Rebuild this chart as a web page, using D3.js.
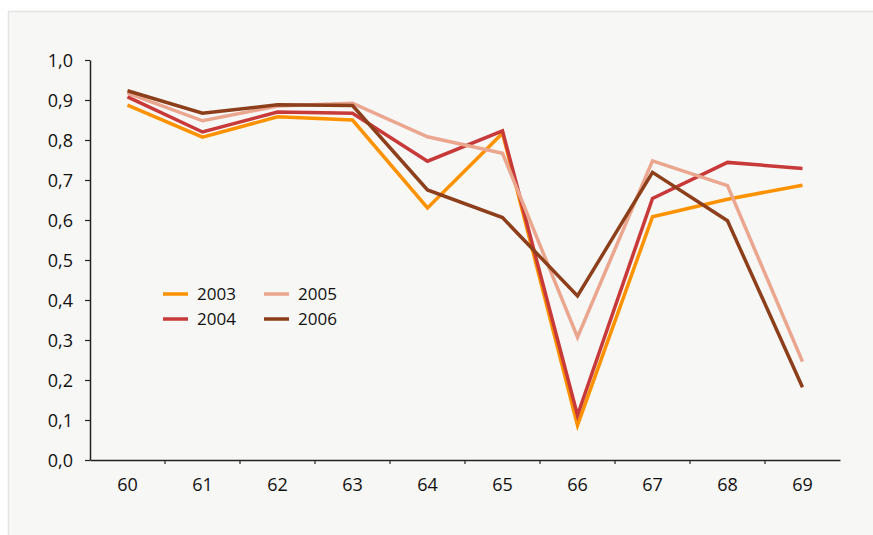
<!DOCTYPE html>
<html><head><meta charset="utf-8">
<script src="https://cdn.jsdelivr.net/npm/d3@7"></script>
<style>
body{margin:0;background:#fff;}
svg{display:block;}
text{font-family:"Open Sans","Noto Sans",sans-serif;fill:#111;}
</style></head><body>
<script>
const categories = ["60","61","62","63","64","65","66","67","68","69"];
const seriesNames = ["2003","2004","2005","2006"];
const v2003 = [0.887,0.807,0.858,0.850,0.630,0.817,0.087,0.608,0.652,0.687];
const v2004 = [0.908,0.820,0.870,0.867,0.747,0.823,0.112,0.654,0.744,0.729];
const v2005 = [0.917,0.848,0.885,0.892,0.808,0.767,0.307,0.748,0.686,0.246];
const v2006 = [0.923,0.867,0.888,0.886,0.675,0.606,0.410,0.719,0.598,0.182];
const yTicks = [0,0.1,0.2,0.3,0.4,0.5,0.6,0.7,0.8,0.9,1.0];
const colors = ["#fd9200","#c8393a","#eaa68e","#8c3f1a"];
const values = [v2003,v2004,v2005,v2006];

const W=873,H=535;
const svg=d3.select("body").append("svg").attr("width",W).attr("height",H);
svg.append("rect").attr("x",8.5).attr("y",11.5).attr("width",W).attr("height",H)
  .attr("fill","#f7f7f5").attr("stroke","#e4e4e4").attr("stroke-width",1.5);

const x=d3.scaleBand().domain(categories).range([90,840]).paddingInner(0).paddingOuter(0);
const y=d3.scaleLinear().domain([0,1]).range([460,60]);
const fmt=d=>d3.format(".1f")(d).replace(".",",");

// y axis
const ya=svg.append("g").attr("transform","translate(90,0)")
  .call(d3.axisLeft(y).tickValues(yTicks).tickFormat(fmt).tickSize(5).tickSizeOuter(0));
ya.select(".domain").attr("stroke","#222").attr("stroke-width",1.5);
ya.selectAll(".tick line").attr("stroke","#222").attr("stroke-width",1.2);
ya.selectAll(".tick text").attr("x",-17).attr("font-size",18).attr("dy","0.35em");

// x axis
const xa=svg.append("g").attr("transform","translate(0,460)")
  .call(d3.axisBottom(x).tickSize(0).tickSizeOuter(0));
xa.select(".domain").attr("stroke","#222").attr("stroke-width",1.5);
xa.selectAll(".tick text").attr("y",25).attr("font-size",18).attr("dy","0.35em");
// boundary ticks
const bounds=categories.map(c=>x(c)).slice(1);
xa.selectAll(".btick").data(bounds).enter().append("line")
  .attr("x1",d=>d).attr("x2",d=>d).attr("y1",0).attr("y2",4)
  .attr("stroke","#222").attr("stroke-width",1.2);
xa.selectAll("text").attr("font-family",null).attr("fill","#111");
ya.selectAll("text").attr("font-family",null).attr("fill","#111");

const line=d3.line().x((d,i)=>x(categories[i])+x.bandwidth()/2).y(d=>y(d));
values.forEach((vals,k)=>{
  svg.append("path").datum(vals).attr("d",line).attr("fill","none")
    .attr("stroke",colors[k]).attr("stroke-width",3.5).attr("stroke-linejoin","miter");
});

// legend
const legPos=[[163,294],[163,319],[264,294],[264,319]];
seriesNames.forEach((n,k)=>{
  const [lx,ly]=legPos[k];
  svg.append("line").attr("x1",lx).attr("x2",lx+25).attr("y1",ly).attr("y2",ly)
    .attr("stroke",colors[k]).attr("stroke-width",3.5);
  svg.append("text").attr("x",lx+34).attr("y",ly).attr("dy","0.35em")
    .attr("font-size",17).text(n);
});
</script></body></html>
